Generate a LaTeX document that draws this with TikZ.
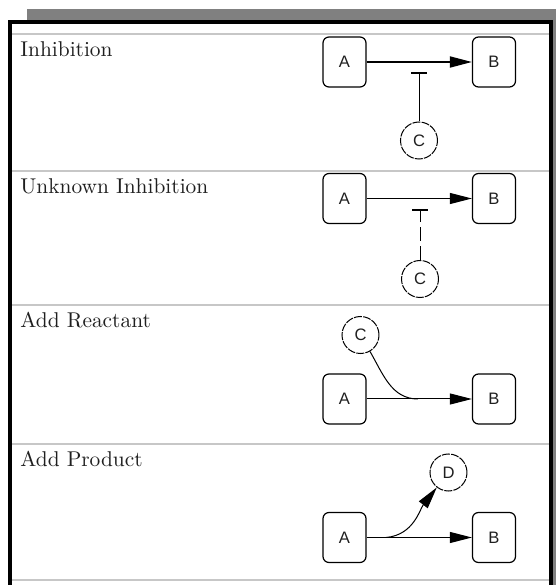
\documentclass[tikz,border=0pt]{standalone}
\usepackage{fontspec}
\newfontfamily\boxfont{Liberation Sans}
\usetikzlibrary{arrows.meta}
\definecolor{shadowgray}{gray}{0.5}
\definecolor{rulegray}{gray}{0.78}
\definecolor{inkgray}{gray}{0.12}

\begin{document}
\begin{tikzpicture}[x=0.5pt, y=0.5pt,
    species/.style={draw, rounded corners=3pt, line width=0.6pt, minimum width=21.5pt,
        minimum height=25pt, inner sep=0pt, text=inkgray, font=\boxfont\fontsize{8.3}{10}\selectfont},
    cpd/.style={draw, circle, dash pattern=on 4pt off 0.6pt, line width=0.5pt, minimum size=18.5pt,
        inner sep=0pt, text=inkgray, font=\boxfont\fontsize{8.3}{10}\selectfont},
    rowtitle/.style={anchor=base west, inner sep=0pt, text=inkgray, font=\fontsize{10.7}{12}\selectfont},
    react/.style={-{Triangle[length=11pt,width=5.5pt]}, line width=0.5pt},
    inhib/.style={-{Bar[width=8pt,line width=0.9pt]}, line width=0.5pt},
    divider/.style={rulegray, line width=1.25pt}]
    \useasboundingbox (0,0) rectangle (556,585);
    \clip (0,0) rectangle (556,585);
    % frame with shadow
    \fill[shadowgray] (27,-10) rectangle (560,576);
    \fill[white] (10,-10) rectangle (550.5,562.5);
    \draw[line width=2pt] (10,-10) -- (10,562.5) -- (550.5,562.5) -- (550.5,-10);
    \foreach \y in {551,414,280,141,5}
        \draw[divider] (12,\y) -- (548.5,\y);

    % Inhibition
    \node[rowtitle] (t-inh) at (20,528.3) {Inhibition};
    \node[species] (a1) at (344.5,523) {A};
    \node[species] (b1) at (494,523) {B};
    \node[cpd] (c1) at (419,444.5) {C};
    \coordinate (t1) at (419,513);
    \draw[react, line width=0.9pt] (a1) -- (b1);
    \draw[inhib] (c1) -- (t1);

    % Unknown Inhibition
    \node[rowtitle] (t-unk) at (20,391.3) {Unknown Inhibition};
    \node[species] (a2) at (344.5,386.5) {A};
    \node[species] (b2) at (494,386.5) {B};
    \node[cpd] (c2) at (420,306) {C};
    \coordinate (t2) at (420,376);
    \draw[react] (a2) -- (b2);
    \draw[inhib, dash pattern=on 7pt off 2.5pt] (c2) -- (t2);

    % Add Reactant
    \node[rowtitle] (t-rea) at (20,257.3) {Add Reactant};
    \node[cpd] (c3) at (360.5,250) {C};
    \node[species] (a3) at (344.5,186) {A};
    \node[species] (b3) at (494,186) {B};
    \coordinate (j3) at (418,186);
    \draw[react] (a3) -- (b3);
    \draw[line width=0.5pt] (c3) to[out=-60,in=180] (j3);

    % Add Product
    \node[rowtitle] (t-pro) at (20,118.3) {Add Product};
    \node[cpd] (d4) at (448.5,112.5) {D};
    \node[species] (a4) at (344.5,47.5) {A};
    \node[species] (b4) at (494,47.5) {B};
    \coordinate (j4) at (386,47.5);
    \draw[react] (a4) -- (b4);
    \draw[react] (j4) to[out=5,in=-128] (d4);
\end{tikzpicture}
\end{document}
